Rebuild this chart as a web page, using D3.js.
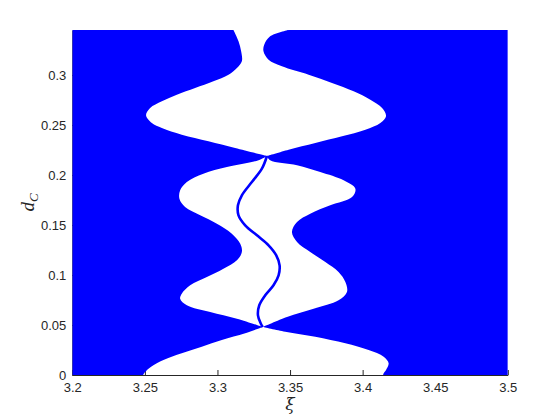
<!DOCTYPE html>
<html>
<head>
<meta charset="utf-8">
<script src="https://cdn.jsdelivr.net/npm/d3@7"></script>
<style>
  html, body { margin: 0; padding: 0; background: #fff; }
  svg { display: block; }
</style>
</head>
<body>
<div id="chart"></div>
<script>
// Stability chart: blue = region, white = gaps between the boundary curves

// tick labels
const xTicks = [3.2, 3.25, 3.3, 3.35, 3.4, 3.45, 3.5];
const yTicks = [0, 0.05, 0.1, 0.15, 0.2, 0.25, 0.3];

// upper gap (from pinch at d_C ~0.219 up to the top of the axes)
const topLeftD  = [0.219, 0.227, 0.2337, 0.2403, 0.247, 0.252, 0.2597, 0.267, 0.2737, 0.2803, 0.287, 0.2937, 0.3003, 0.307, 0.3137, 0.3237, 0.3337, 0.345];
const topLeftXi = [3.3341, 3.3122, 3.2938, 3.2754, 3.2617, 3.2548, 3.2508, 3.2536, 3.2617, 3.2720, 3.2846, 3.2972, 3.3076, 3.3134, 3.3168, 3.3163, 3.3145, 3.3110];
const topRightD  = [0.219, 0.2253, 0.232, 0.2387, 0.2453, 0.252, 0.2587, 0.267, 0.2753, 0.2837, 0.292, 0.3003, 0.3087, 0.3153, 0.3237, 0.3303, 0.3387, 0.345];
const topRightXi = [3.3341, 3.3490, 3.3674, 3.3858, 3.4019, 3.4122, 3.4161, 3.4134, 3.4053, 3.3938, 3.3789, 3.3628, 3.3444, 3.3352, 3.3317, 3.3322, 3.3363, 3.3490];

// middle gap (between the two pinch points)
const midLeftD  = [0.048, 0.0563, 0.063, 0.0697, 0.0763, 0.0813, 0.0897, 0.098, 0.1063, 0.1147, 0.123, 0.1313, 0.1413, 0.1513, 0.1597, 0.168, 0.1763, 0.1847, 0.193, 0.2013, 0.208, 0.2147, 0.219];
const midLeftXi = [3.3312, 3.3134, 3.2950, 3.2789, 3.2743, 3.2754, 3.2812, 3.2927, 3.3041, 3.3134, 3.3168, 3.3157, 3.3099, 3.2996, 3.2881, 3.2777, 3.2738, 3.2743, 3.2789, 3.2903, 3.3065, 3.3283, 3.3341];
const midRightD  = [0.048, 0.058, 0.0663, 0.0747, 0.083, 0.093, 0.103, 0.113, 0.123, 0.133, 0.143, 0.153, 0.1613, 0.1697, 0.178, 0.1863, 0.1947, 0.203, 0.2097, 0.2147, 0.219];
const midRightXi = [3.3312, 3.3479, 3.3662, 3.3834, 3.3892, 3.3881, 3.3834, 3.3743, 3.3639, 3.3548, 3.3513, 3.3548, 3.3639, 3.3777, 3.3927, 3.3950, 3.3869, 3.3708, 3.3548, 3.3363, 3.3341];

// lower gap (from d_C = 0 up to the lower pinch)
const lowLeftD  = [0, 0.0023, 0.0083, 0.015, 0.0217, 0.0283, 0.035, 0.0417, 0.048];
const lowLeftXi = [3.2488, 3.2497, 3.2543, 3.2628, 3.2754, 3.2892, 3.3030, 3.3191, 3.3312];
const lowRightD  = [0, 0.0017, 0.005, 0.0117, 0.0183, 0.025, 0.0317, 0.0383, 0.0433, 0.048];
const lowRightXi = [3.4141, 3.4145, 3.4161, 3.4179, 3.4145, 3.4041, 3.3881, 3.3674, 3.3467, 3.3312];

// curve running through the middle gap
const innerD  = [0.048, 0.0513, 0.0597, 0.0697, 0.0797, 0.0897, 0.0997, 0.1097, 0.1197, 0.1297, 0.1397, 0.1497, 0.1597, 0.1697, 0.1797, 0.193, 0.2063, 0.219];
const innerXi = [3.3312, 3.3299, 3.3279, 3.3288, 3.3329, 3.3386, 3.3421, 3.3428, 3.3405, 3.3352, 3.3272, 3.3191, 3.3145, 3.3141, 3.3168, 3.3237, 3.3306, 3.3341];

const W = 560, H = 420;
const BLUE = '#0000ff';
const INK = '#262626';

const x = d3.scaleLinear().domain([3.2, 3.5]).range([72.3, 507.8]);
const y = d3.scaleLinear().domain([0, 0.345]).range([375, 30]);

const svg = d3.select('#chart').append('svg')
  .attr('width', W)
  .attr('height', H)
  .style('font-family', '"Liberation Sans", Arial, sans-serif');

svg.append('defs').append('clipPath')
  .attr('id', 'plot-clip')
  .append('rect')
  .attr('x', x(3.2)).attr('y', y(0.345))
  .attr('width', x(3.5) - x(3.2)).attr('height', y(0) - y(0.345));

// axes first, the blue patch sits on top of them
const xAxis = svg.append('g')
  .attr('transform', `translate(0,${y(0)})`)
  .call(d3.axisBottom(x).tickValues(xTicks).tickFormat(d3.format('')).tickSizeInner(-5).tickSizeOuter(0).tickPadding(8));

const yAxis = svg.append('g')
  .attr('transform', `translate(${x(3.2)},0)`)
  .call(d3.axisLeft(y).tickValues(yTicks).tickFormat(d3.format('')).tickSizeInner(-5).tickSizeOuter(0).tickPadding(6));

[xAxis, yAxis].forEach(g => {
  g.selectAll('path, line').attr('stroke', INK);
  g.selectAll('text').attr('fill', INK).style('font-size', '13px').style('font-family', '"Liberation Sans", Arial, sans-serif');
});

const zip = (ds, xs) => ds.map((d, i) => [xs[i], d]);

const line = d3.line()
  .x(p => x(p[0]))
  .y(p => y(p[1]))
  .curve(d3.curveCatmullRom.alpha(0.5));

function hole(leftD, leftXi, rightD, rightXi) {
  const left = line(zip(leftD, leftXi));
  const right = line(zip(rightD, rightXi).reverse());
  return left + 'L' + right.slice(1) + 'Z';
}

const outer = `M${x(3.2)},${y(0)}H${x(3.5)}V${y(0.345)}H${x(3.2)}Z`;

svg.append('path')
  .attr('clip-path', 'url(#plot-clip)')
  .attr('fill', BLUE)
  .attr('fill-rule', 'evenodd')
  .attr('d', outer +
    hole(topLeftD, topLeftXi, topRightD, topRightXi) +
    hole(midLeftD, midLeftXi, midRightD, midRightXi) +
    hole(lowLeftD, lowLeftXi, lowRightD, lowRightXi));

svg.append('path')
  .attr('clip-path', 'url(#plot-clip)')
  .attr('fill', 'none')
  .attr('stroke', BLUE)
  .attr('stroke-width', 2.6)
  .attr('d', line(zip(innerD, innerXi)));

// axis labels
svg.append('text')
  .attr('x', (x(3.2) + x(3.5)) / 2)
  .attr('y', 410)
  .attr('text-anchor', 'middle')
  .attr('fill', INK)
  .style('font-family', '"DejaVu Serif", "Liberation Serif", serif')
  .style('font-style', 'italic')
  .style('font-size', '17px')
  .text('ξ');

const yl = svg.append('text')
  .attr('transform', `translate(34,${(y(0) + y(0.345)) / 2}) rotate(-90)`)
  .attr('text-anchor', 'middle')
  .attr('fill', INK)
  .style('font-family', '"Liberation Serif", "DejaVu Serif", serif')
  .style('font-style', 'italic')
  .style('font-size', '19px');
yl.append('tspan').text('d');
yl.append('tspan').attr('dy', 4).style('font-size', '13px').text('C');
</script>
</body>
</html>
